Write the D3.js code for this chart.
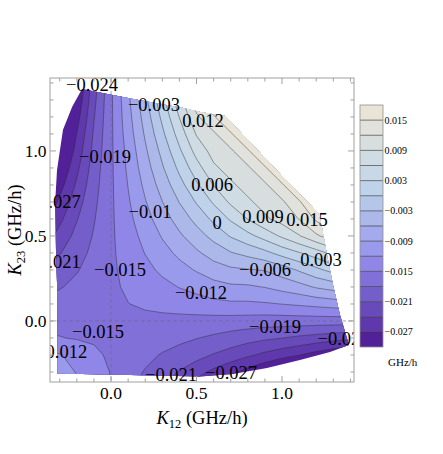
<!DOCTYPE html>
<html><head><meta charset="utf-8">
<script src="https://cdn.jsdelivr.net/npm/d3@7"></script>
<style>
body{margin:0;background:#fff}
text{font-family:"Liberation Serif","Times New Roman",Times,serif;fill:#000}
</style>
</head><body>
<svg id="chart" width="443" height="454"></svg>
<script>
// ---------------- data ----------------
// grid node positions (GHz/h)
const gridX = [-0.4,-0.3,-0.2,-0.1,0,0.1,0.2,0.3,0.4,0.5,0.6,0.7,0.8,0.9,1.0,1.1,1.2,1.3,1.4,1.5];
const gridY = [-0.4,-0.3,-0.2,-0.1,0,0.1,0.2,0.3,0.4,0.5,0.6,0.7,0.8,0.9,1.0,1.1,1.2,1.3,1.4,1.5];
// field values, in units of 0.001 GHz/h; one row per gridY value
const fieldRows = [
 [-7,-9,-11.2,-13.5,-15.05,-17.3,-19.1,-21.2,-23.5,-25.9,-28.2,-30.5,-32.9,-34,-34,-34,-34,-34,-34,-34],
 [-9,-10.5,-12.2,-14.0,-15.1,-16.85,-18.2,-19.55,-21.2,-22.9,-24.7,-26.4,-28.2,-29.9,-31.7,-33.5,-34,-34,-34,-34],
 [-10.8,-11.8,-13.1,-14.4,-15.5,-16.4,-17.3,-18.2,-19.1,-20,-21.2,-22.3,-23.5,-24.7,-25.9,-26.9,-28.2,-29.4,-30.5,-31.7],
 [-14.6,-14.9,-15.2,-15.4,-15.5,-15.95,-16.4,-16.85,-17.3,-17.9,-18.5,-19.2,-19.9,-20.5,-20.95,-21.6,-22.2,-22.8,-23.3,-23.9],
 [-15.9,-15.8,-15.7,-15.6,-15.6,-15.6,-15.7,-15.8,-15.9,-16.0,-16.1,-16.2,-16.3,-16.5,-16.5,-16.5,-16.5,-16.5,-16.5,-16.5],
 [-17.3,-16.85,-16.4,-15.95,-15.5,-15.05,-14.6,-14.15,-13.7,-13.25,-12.8,-12.5,-12.5,-12.3,-11.95,-11.55,-11.1,-10.65,-10.2,-9.75],
 [-19.1,-18.2,-17.3,-16.4,-15.5,-14.6,-13.7,-12.8,-11.9,-11.1,-10.1,-9.5,-9.4,-8.9,-8.0,-7.1,-5.7,-4.8,-3.9,-2.9],
 [-21.2,-19.55,-18.2,-16.85,-15.5,-14.15,-12.8,-11.45,-10.1,-8.75,-7.4,-6.55,-6.2,-5.85,-4.5,-2.65,-0.8,1.05,2.4,3.75],
 [-23.5,-21.2,-19.1,-17.3,-15.5,-13.7,-11.9,-10.1,-8.3,-6.5,-4.7,-3.2,-2.1,-0.8,1.1,2.8,4.6,6.9,8.7,10.5],
 [-25.9,-22.9,-20.1,-17.75,-15.5,-13.25,-11.1,-8.75,-6.5,-4.25,-2.1,0.25,2.1,4.2,6.5,8.8,11.5,13.75,16,18.25],
 [-28.2,-24.7,-21.2,-18.2,-15.5,-12.8,-10.1,-7.4,-4.7,-2.1,0.7,3.4,6.1,8.5,10.1,12.1,15.5,18.6,22,22],
 [-30.5,-26.4,-22.3,-18.65,-15.5,-12.35,-9.2,-6.05,-2.9,0.25,3.4,6.55,8.5,10.1,11.5,14.6,18.6,22,22,22],
 [-32.9,-28.2,-23.5,-19.1,-15.5,-11.9,-8.3,-4.7,-1.1,2.5,6.1,8.5,10.1,11.5,14.6,18.6,22,22,22,22],
 [-34,-29.9,-24.7,-19.55,-15.5,-11.45,-7.4,-3.35,0.7,4.75,8.5,10.1,11.5,14.6,18.6,22,22,22,22,22],
 [-34,-31.7,-25.9,-20.1,-15.5,-11.1,-6.5,-2.1,2.5,7.1,10.1,11.5,14.6,18.6,22,22,22,22,22,22],
 [-34,-33.5,-26.9,-20.6,-15.5,-10.55,-5.6,-0.65,4.3,9.25,11.5,14.6,18.6,22,22,22,22,22,22,22],
 [-34,-34,-28.2,-21.2,-15.5,-10.1,-4.7,0.7,6.1,11.5,14.6,18.6,22,22,22,22,22,22,22,22],
 [-34,-34,-29.4,-21.8,-15.5,-9.65,-3.8,2.05,7.9,13.75,18.6,22,22,22,22,22,22,22,22,22],
 [-34,-34,-30.5,-22.3,-15.5,-9.2,-2.9,3.4,9.7,16,22,22,22,22,22,22,22,22,22,22],
 [-34,-34,-31.7,-22.9,-15.5,-8.75,-2.1,4.75,11.5,18.25,22,22,22,22,22,22,22,22,22,22]
];
// outline of the region that holds data (K12, K23)
const dataHull = [
 [-0.170,1.365],[-0.228,1.259],[-0.281,1.124],[-0.316,0.888],[-0.327,0.694],[-0.322,0.418],
 [-0.313,0.124],[-0.313,-0.309],[0.111,-0.318],[0.520,-0.326],[0.713,-0.312],[0.912,-0.276],
 [1.105,-0.229],[1.281,-0.182],[1.392,-0.141],[1.339,0.035],[1.298,0.212],[1.263,0.388],
 [1.234,0.547],[1.211,0.635],[1.012,0.841],[0.667,1.206],[0.520,1.229],[0.421,1.253],[0.129,1.306]
];
// contour levels (GHz/h) and band colours (lowest band first)
const levels = [-0.027,-0.024,-0.021,-0.018,-0.015,-0.012,-0.009,-0.006,-0.003,0,0.003,0.006,0.009,0.012,0.015];
const bandColors = ["#522098","#5e38ac","#684aba","#745eca","#8070d8","#9086e8","#9a9aec","#a4aaec",
                    "#acb8ea","#b4c6ea","#bed2ea","#c8d8e6","#d0dce4","#d8dede","#e2e2dc","#eae4d6"];
const barRange = [-0.030, 0.018];
// contour labels: position (K12, K23) and text
const contourLabels = [
 {x:-0.111,y:1.388,t:"−0.024"},{x:0.251,y:1.271,t:"−0.003"},{x:0.538,y:1.176,t:"0.012"},
 {x:-0.035,y:0.965,t:"−0.019"},{x:-0.330,y:0.700,t:"−0.027"},{x:0.228,y:0.641,t:"−0.01"},
 {x:0.591,y:0.800,t:"0.006"},{x:0.620,y:0.576,t:"0"},{x:0.889,y:0.612,t:"0.009"},
 {x:1.146,y:0.594,t:"0.015"},{x:1.228,y:0.359,t:"0.003"},{x:0.901,y:0.300,t:"−0.006"},
 {x:-0.330,y:0.347,t:"−0.021"},{x:0.053,y:0.300,t:"−0.015"},{x:0.526,y:0.165,t:"−0.012"},
 {x:-0.076,y:-0.065,t:"−0.015"},{x:-0.292,y:-0.182,t:"−0.012"},{x:0.351,y:-0.318,t:"−0.021"},
 {x:0.959,y:-0.035,t:"−0.019"},{x:1.360,y:-0.106,t:"−0.024"},{x:0.702,y:-0.306,t:"−0.027"}
];
// axes
const majorTicks = [0, 0.5, 1.0];
const majorTickLabels = ["0.0","0.5","1.0"];
const minorTicks = [-0.3,-0.2,-0.1,0.1,0.2,0.3,0.4,0.6,0.7,0.8,0.9,1.1,1.2,1.3,1.4];
const barTickValues = [0.015,0.009,0.003,-0.003,-0.009,-0.015,-0.021,-0.027];
const barTickLabels = ["0.015","0.009","0.003","−0.003","−0.009","−0.015","−0.021","−0.027"];

// ---------------- drawing ----------------
const svg = d3.select("#chart");
const L=50,R=354,T=78,B=382;
const x = d3.scaleLinear().domain([-0.357,1.421]).range([L,R]);
const y = d3.scaleLinear().domain([-0.359,1.429]).range([B,T]);

const nx = gridX.length, ny = gridY.length;
const flat = [];
for (let j=0;j<ny;j++) for (let i=0;i<nx;i++) flat.push(fieldRows[j][i]*1e-3);
const gx = d3.scaleLinear().domain([0.5,nx-0.5]).range([gridX[0],gridX[nx-1]]);
const gy = d3.scaleLinear().domain([0.5,ny-0.5]).range([gridY[0],gridY[ny-1]]);
const proj = d3.geoTransform({point(a,b){ this.stream.point(x(gx(a)), y(gy(b))); }});
const path = d3.geoPath(proj);
const polys = d3.contours().size([nx,ny]).thresholds(levels)(flat);

const defs = svg.append("defs");
defs.append("clipPath").attr("id","hull").append("path")
  .attr("d", d3.line().x(d=>x(d[0])).y(d=>y(d[1])).curve(d3.curveLinearClosed)(dataHull));
defs.append("clipPath").attr("id","frame").append("rect")
  .attr("x",L).attr("y",T).attr("width",R-L).attr("height",B-T);

const plot = svg.append("g").attr("clip-path","url(#hull)");
plot.append("rect").attr("x",L).attr("y",T).attr("width",R-L).attr("height",B-T).attr("fill",bandColors[0]);
polys.forEach((p,k)=>plot.append("path").attr("d",path(p)).attr("fill",bandColors[k+1]));
polys.forEach(p=>plot.append("path").attr("d",path(p)).attr("fill","none")
  .attr("stroke","#2a2a2a").attr("stroke-opacity",0.6).attr("stroke-width",0.75));

// dashed axes lines
const dash = svg.append("g").attr("clip-path","url(#frame)")
  .attr("stroke","#6a6a8a").attr("stroke-width",0.8).attr("stroke-dasharray","3.5,3").attr("stroke-opacity",0.8);
dash.append("line").attr("x1",x(0)).attr("x2",x(0)).attr("y1",T).attr("y2",B);
dash.append("line").attr("x1",L).attr("x2",R).attr("y1",y(0)).attr("y2",y(0));

// contour labels
const lab = svg.append("g").attr("clip-path","url(#frame)");
lab.selectAll("text").data(contourLabels).join("text")
  .attr("x",d=>x(d.x)).attr("y",d=>y(d.y)+6).attr("text-anchor","middle")
  .attr("font-size",18.5).text(d=>d.t);

// frame and ticks
const fr = svg.append("g").attr("stroke","#a0a0a0").attr("stroke-width",1).attr("fill","none");
fr.append("rect").attr("x",L).attr("y",T).attr("width",R-L).attr("height",B-T);
function ticks(vals,len){
  vals.forEach(v=>{
    const px=x(v), py=y(v);
    fr.append("line").attr("x1",px).attr("x2",px).attr("y1",B).attr("y2",B-len);
    fr.append("line").attr("x1",px).attr("x2",px).attr("y1",T).attr("y2",T+len);
    fr.append("line").attr("y1",py).attr("y2",py).attr("x1",L).attr("x2",L+len);
    fr.append("line").attr("y1",py).attr("y2",py).attr("x1",R).attr("x2",R-len);
  });
}
ticks(majorTicks,6); ticks(minorTicks,3.5);
majorTicks.forEach((v,i)=>{
  svg.append("text").attr("x",x(v)).attr("y",399).attr("text-anchor","middle").attr("font-size",17.5).text(majorTickLabels[i]);
  svg.append("text").attr("x",46.5).attr("y",y(v)+6).attr("text-anchor","end").attr("font-size",17.5).text(majorTickLabels[i]);
});

// axis titles
const xt = svg.append("text").attr("x",(L+R)/2).attr("y",424).attr("text-anchor","middle").attr("font-size",18.5);
xt.append("tspan").attr("font-style","italic").text("K");
xt.append("tspan").attr("font-size",12.5).attr("dy",4).text("12");
xt.append("tspan").attr("dy",-4).text(" (GHz/h)");
const yt = svg.append("text").attr("transform",`translate(20.5,${(T+B)/2}) rotate(-90)`).attr("text-anchor","middle").attr("font-size",18.5);
yt.append("tspan").attr("font-style","italic").text("K");
yt.append("tspan").attr("font-size",12.5).attr("dy",4).text("23");
yt.append("tspan").attr("dy",-4).text(" (GHz/h)");

// colour bar
const bx=360, bw=23;
const by = d3.scaleLinear().domain(barRange).range([347,105]);
const bounds = [barRange[0]].concat(levels,[barRange[1]]);
const cb = svg.append("g");
bandColors.forEach((c,k)=>{
  cb.append("rect").attr("x",bx).attr("width",bw).attr("y",by(bounds[k+1])).attr("height",by(bounds[k])-by(bounds[k+1])).attr("fill",c);
});
levels.forEach(v=>cb.append("line").attr("x1",bx).attr("x2",bx+bw).attr("y1",by(v)).attr("y2",by(v))
  .attr("stroke","#333").attr("stroke-width",0.8).attr("stroke-opacity",0.8));
cb.append("rect").attr("x",bx).attr("y",105).attr("width",bw).attr("height",242).attr("fill","none").attr("stroke","#909090").attr("stroke-width",0.8);
barTickValues.forEach((v,i)=>cb.append("text").attr("x",384.5).attr("y",by(v)+3.5).attr("font-size",10).text(barTickLabels[i]));
cb.append("text").attr("x",388).attr("y",366).attr("font-size",11).text("GHz/h");
</script>
</body></html>
